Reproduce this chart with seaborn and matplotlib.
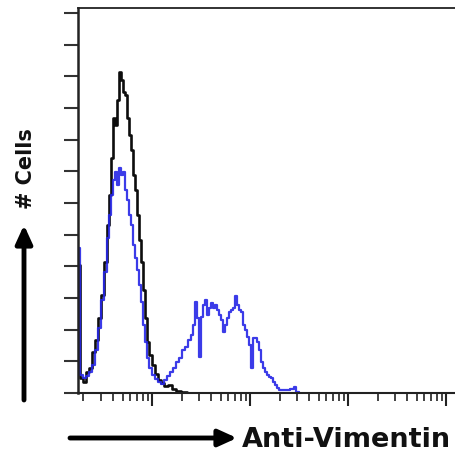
import numpy as np
import pandas as pd
import matplotlib
matplotlib.use("Agg")
import matplotlib.pyplot as plt
from matplotlib.ticker import LogLocator, NullFormatter, FixedLocator
import seaborn as sns

# ─────────────────────────────────────────────
# DATA  (log10 fluorescence intensity, cell counts)
# ─────────────────────────────────────────────
control_log = [0.255, 0.276, 0.306, 0.337, 0.367, 0.398, 0.429, 0.459, 0.490, 0.520,
               0.551, 0.571, 0.592, 0.612, 0.633, 0.653, 0.673, 0.694, 0.714, 0.735,
               0.755, 0.776, 0.796, 0.816, 0.837, 0.857, 0.878, 0.898, 0.918, 0.939,
               0.959, 0.980, 1.010, 1.041, 1.071, 1.102, 1.143, 1.184, 1.224, 1.265,
               1.327, 1.388]
control_counts = [4.04, 0.47, 0.35, 0.66, 0.79, 1.29, 1.67, 2.37, 3.09, 4.14,
                  5.30, 6.25, 7.42, 8.68, 8.46, 9.25, 10.14, 9.88, 9.50, 9.41,
                  8.68, 8.15, 7.67, 6.88, 6.41, 5.62, 4.83, 4.14, 3.25, 2.37,
                  1.61, 1.20, 0.88, 0.60, 0.41, 0.32, 0.22, 0.25, 0.13, 0.06,
                  0.03, 0.0]

vimentin_log = [0.255, 0.276, 0.306, 0.337, 0.367, 0.398, 0.429, 0.459, 0.490, 0.520,
                0.551, 0.571, 0.592, 0.612, 0.633, 0.653, 0.673, 0.694, 0.714, 0.735,
                0.755, 0.776, 0.796, 0.816, 0.837, 0.857, 0.878, 0.898, 0.918, 0.939,
                0.959, 0.980, 1.010, 1.041, 1.071, 1.102, 1.133, 1.163, 1.194, 1.224,
                1.255, 1.286, 1.316, 1.347, 1.378, 1.408, 1.429, 1.449, 1.469, 1.490,
                1.510, 1.531, 1.551, 1.571, 1.592, 1.612, 1.633, 1.653, 1.673, 1.694,
                1.714, 1.735, 1.755, 1.776, 1.796, 1.816, 1.837, 1.857, 1.878, 1.898,
                1.918, 1.939, 1.959, 1.980, 2.000, 2.020, 2.041, 2.061, 2.082, 2.102,
                2.122, 2.143, 2.163, 2.184, 2.204, 2.224, 2.245, 2.265, 2.286, 2.306,
                2.347, 2.388, 2.429, 2.459, 2.480, 2.510]
vimentin_counts = [4.58, 0.57, 0.47, 0.54, 0.66, 0.88, 1.36, 2.05, 2.94, 3.82,
                   4.89, 5.62, 6.25, 6.73, 6.98, 6.57, 7.10, 6.88, 6.98, 6.41,
                   6.09, 5.62, 5.30, 4.67, 4.26, 3.88, 3.41, 2.87, 2.15, 1.61,
                   1.11, 0.79, 0.57, 0.44, 0.35, 0.28, 0.41, 0.54, 0.66, 0.79,
                   0.98, 1.11, 1.36, 1.45, 1.67, 1.83, 2.15, 2.87, 2.37, 1.14,
                   2.40, 2.78, 2.94, 2.46, 2.68, 2.84, 2.68, 2.78, 2.62, 2.46,
                   2.30, 1.93, 2.15, 2.37, 2.56, 2.62, 2.68, 3.06, 2.78, 2.62,
                   2.56, 2.15, 1.99, 1.77, 1.52, 0.79, 1.74, 1.74, 1.61, 1.36,
                   0.98, 0.79, 0.66, 0.57, 0.51, 0.47, 0.35, 0.25, 0.16, 0.09,
                   0.09, 0.09, 0.13, 0.19, 0.03, 0.0]

x_label = "Anti-Vimentin"
y_label = "# Cells"

# ─────────────────────────────────────────────
# FIGURE
# ─────────────────────────────────────────────
sns.set_style("white")
plt.rcParams["font.family"] = ["DejaVu Sans"]

W, H = 456, 457
fig = plt.figure(figsize=(W / 100, H / 100), dpi=100)
ax = fig.add_axes([78 / W, (H - 393) / H, (W - 78) / W, (393 - 8) / H])

ctrl = pd.DataFrame({"x": np.power(10.0, control_log), "y": control_counts})
vim = pd.DataFrame({"x": np.power(10.0, vimentin_log), "y": vimentin_counts})

sns.lineplot(data=ctrl, x="x", y="y", ax=ax, color="#0d0d0d", lw=1.9,
             drawstyle="steps-mid", estimator=None)
sns.lineplot(data=vim, x="x", y="y", ax=ax, color="#2626e6", lw=1.6,
             drawstyle="steps-mid", estimator=None, alpha=0.9)

ax.set_xscale("log")
ax.set_xlim(10 ** 0.245, 10 ** 4.10)
ax.set_ylim(0, 12.16)

# ticks: log decades on x, plain counts on y, no labels
ax.xaxis.set_major_locator(LogLocator(base=10, numticks=10))
ax.xaxis.set_minor_locator(LogLocator(base=10, subs=np.arange(2, 10), numticks=20))
ax.xaxis.set_major_formatter(NullFormatter())
ax.xaxis.set_minor_formatter(NullFormatter())
ax.yaxis.set_major_locator(FixedLocator(np.arange(0, 13)))
ax.yaxis.set_major_formatter(NullFormatter())

ax.tick_params(axis="x", which="major", direction="out", length=9, width=1.5,
               color="#222222", bottom=True)
ax.tick_params(axis="x", which="minor", direction="out", length=6, width=1.3,
               color="#333333", bottom=True)
ax.tick_params(axis="y", which="major", direction="out", length=10, width=1.5,
               color="#333333", left=True)

for side in ["left", "bottom", "top"]:
    ax.spines[side].set_visible(True)
    ax.spines[side].set_color("#222222")
ax.spines["left"].set_linewidth(1.8)
ax.spines["bottom"].set_linewidth(1.5)
ax.spines["top"].set_linewidth(1.3)
ax.spines["right"].set_visible(False)
ax.set_xlabel("")
ax.set_ylabel("")

# axis labels with arrows (drawn in figure pixel space)
arrow_kw = dict(arrowstyle="-|>,head_length=1.1,head_width=0.5", color="black",
                lw=3.5, shrinkA=0, shrinkB=0)
ax.annotate("", xy=(237, H - 438), xytext=(70, H - 438),
            xycoords="figure pixels", textcoords="figure pixels", arrowprops=arrow_kw)
ax.annotate("", xy=(24, H - 225), xytext=(24, H - 400),
            xycoords="figure pixels", textcoords="figure pixels", arrowprops=arrow_kw)

fig.text(242 / W, 1 - 440 / H, x_label, ha="left", va="center",
         fontsize=19.5, fontweight="bold", color="#111111")
fig.text(26 / W, 1 - 169 / H, y_label, ha="center", va="center", rotation=90,
         fontsize=15, fontweight="bold", color="#111111")

fig.savefig("out.png", dpi=100)
